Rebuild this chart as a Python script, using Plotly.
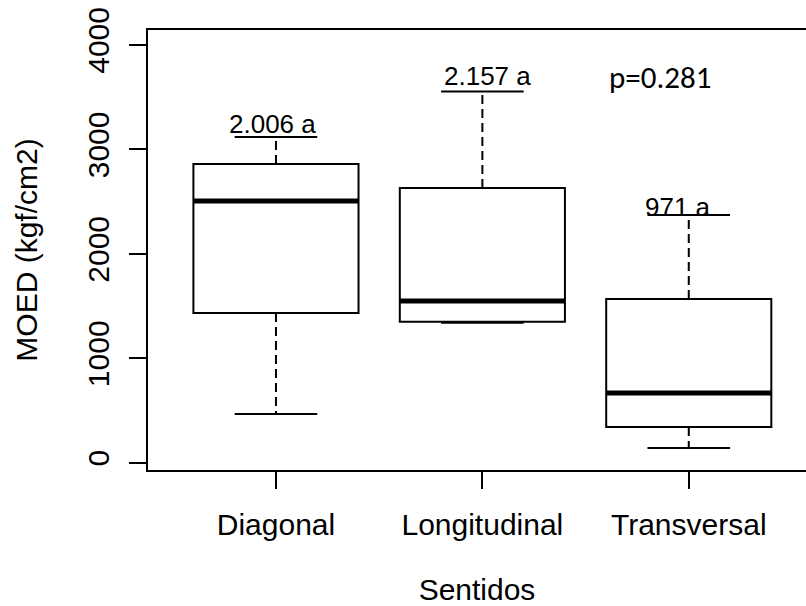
import plotly.graph_objects as go

# ---- data ----
categories = ["Diagonal", "Longitudinal", "Transversal"]
lower_whisker = [466, 1341, 141]
q1_values = [1433, 1350, 342]
median_values = [2505, 1549, 668]
q3_values = [2860, 2631, 1568]
upper_whisker = [3119, 3553, 2372]
group_labels = ["2.006 a", "2.157 a", "971 a"]
p_text = "p=0.281"
y_ticks = [0, 1000, 2000, 3000, 4000]

# ---- style ----
BOX_W = 0.8
CAP_W = 0.4
AX_FONT = dict(family="Liberation Sans, Arial, sans-serif", size=30, color="black")
LBL_FONT = dict(family="Liberation Sans, Arial, sans-serif", size=26, color="black")
P_FONT = dict(family="Carlito, Lato, sans-serif", size=31, color="black")
label_xshift = [-3, 5, -11]
label_yshift = [13, 16, 8]

xpos = list(range(1, len(categories) + 1))

fig = go.Figure()

# boxes (whiskers drawn separately so they can be dashed)
fig.add_trace(go.Box(
    x=xpos, q1=q1_values, median=median_values, q3=q3_values,
    lowerfence=q1_values, upperfence=q3_values,
    width=BOX_W, whiskerwidth=0,
    fillcolor="white", line=dict(color="black", width=2),
    boxpoints=False, showlegend=False, hoverinfo="skip",
))

# dashed whiskers
wx, wy = [], []
for i, x in enumerate(xpos):
    wx += [x, x, None, x, x, None]
    wy += [q3_values[i], upper_whisker[i], None, q1_values[i], lower_whisker[i], None]
fig.add_trace(go.Scatter(x=wx, y=wy, mode="lines",
                         line=dict(color="black", width=2, dash="9px,5px"),
                         showlegend=False, hoverinfo="skip"))

# whisker caps
cx, cy = [], []
for i, x in enumerate(xpos):
    for v in (upper_whisker[i], lower_whisker[i]):
        cx += [x - CAP_W / 2, x + CAP_W / 2, None]
        cy += [v, v, None]
fig.add_trace(go.Scatter(x=cx, y=cy, mode="lines",
                         line=dict(color="black", width=2),
                         showlegend=False, hoverinfo="skip"))

# thick medians
mx, my = [], []
for i, x in enumerate(xpos):
    mx += [x - BOX_W / 2, x + BOX_W / 2, None]
    my += [median_values[i], median_values[i], None]
fig.add_trace(go.Scatter(x=mx, y=my, mode="lines",
                         line=dict(color="black", width=5),
                         showlegend=False, hoverinfo="skip"))

annotations = []
for i, x in enumerate(xpos):
    annotations.append(dict(
        x=x, y=upper_whisker[i], xref="x", yref="y", text=group_labels[i],
        showarrow=False, font=LBL_FONT, xanchor="center", yanchor="middle",
        xshift=label_xshift[i], yshift=label_yshift[i]))
annotations.append(dict(
    x=2.86, y=3693, xref="x", yref="y", text=p_text, showarrow=False,
    font=P_FONT, xanchor="center", yanchor="middle"))

fig.update_layout(
    width=806, height=606,
    margin=dict(l=148, r=0, t=30, b=136),
    paper_bgcolor="white", plot_bgcolor="white",
    showlegend=False,
    annotations=annotations,
    xaxis=dict(
        range=[0.38, 3.568], tickmode="array", tickvals=xpos, ticktext=categories,
        showgrid=False, zeroline=False, showline=True, mirror=True,
        linecolor="black", linewidth=2,
        ticks="outside", ticklen=17, tickwidth=2, tickcolor="black",
        tickfont=AX_FONT, ticklabelstandoff=10,
        title=dict(text="Sentidos", font=AX_FONT, standoff=43),
    ),
    yaxis=dict(
        range=[-70, 4143], tickmode="array", tickvals=y_ticks,
        ticktext=[str(v) for v in y_ticks],
        showgrid=False, zeroline=False, showline=True, mirror=False,
        linecolor="black", linewidth=2,
        ticks="outside", ticklen=17, tickwidth=2, tickcolor="black",
        tickfont=AX_FONT, tickangle=-90, ticklabelstandoff=8,
        title=dict(text="MOED (kgf/cm2)", font=AX_FONT, standoff=36),
    ),
)

fig.write_html("out.html")
